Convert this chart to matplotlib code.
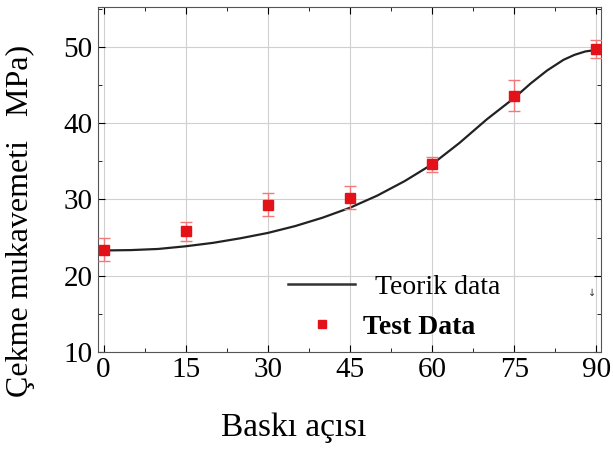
import matplotlib
matplotlib.use("Agg")
import matplotlib.pyplot as plt
from matplotlib.ticker import MultipleLocator
from matplotlib.lines import Line2D

plt.rcParams['font.family'] = ['Liberation Serif', 'DejaVu Serif']

# test verileri
aci = [0, 15, 30, 45, 60, 75, 90]
test = [23.4, 25.8, 29.3, 30.2, 34.6, 43.6, 49.7]
hata = [1.5, 1.2, 1.5, 1.5, 1.0, 2.0, 1.2]

# teorik egri
aci_t = [0, 5, 10, 15, 20, 25, 30, 35, 40, 45, 50, 55, 60, 65, 70, 75,
         78, 81, 84, 86, 88, 90]
teorik = [23.3, 23.35, 23.5, 23.85, 24.3, 24.9, 25.6, 26.5, 27.6, 28.9, 30.5, 32.4,
          34.6, 37.4, 40.5, 43.3, 45.2, 46.9, 48.3, 48.95, 49.4, 49.6]

fig = plt.figure(figsize=(6.13, 4.5), dpi=100)
ax = fig.add_axes([0.160, 0.218, 0.820, 0.766])

ax.plot(aci_t, teorik, color='#222222', lw=1.6, zorder=3)
ax.errorbar(aci, test, yerr=hata, fmt='s', color='#e31219', ms=7,
            ecolor='#f07a7a', elinewidth=1.0, capsize=4, capthick=1.0, zorder=4)

ax.set_xlim(-1.0, 90.8)
ax.set_ylim(10, 55.2)
ax.set_xticks(aci)
ax.set_yticks([10, 20, 30, 40, 50])
ax.xaxis.set_minor_locator(MultipleLocator(7.5))
ax.yaxis.set_minor_locator(MultipleLocator(5))
ax.tick_params(which='both', direction='in', top=True, right=True, labelsize=21)
ax.tick_params(which='major', length=5, pad=4)
ax.tick_params(which='minor', length=3)
ax.grid(True, which='major', color='#d0d0d0', lw=0.8)
for s in ax.spines.values():
    s.set_color('#555555')

ax.set_xlabel('Baskı açısı', fontsize=24)
ax.xaxis.set_label_coords(0.39, -0.175)
ax.set_ylabel('Çekme mukavemeti   MPa)', fontsize=23)
ax.yaxis.set_label_coords(-0.125, 0.38)

h1 = Line2D([], [], color='#333333', lw=1.8)
h2 = Line2D([], [], color='#e31219', marker='s', ms=6, ls='none')
leg1 = ax.legend([h1], ['Teorik data'], loc='center left',
                 bbox_to_anchor=(288 / 613, 1 - 287 / 450), bbox_transform=fig.transFigure,
                 frameon=False, fontsize=20, handlelength=2.4, handletextpad=0.72,
                 borderpad=0, borderaxespad=0)
ax.add_artist(leg1)
leg2 = ax.legend([h2], ['Test Data'], loc='center left',
                 bbox_to_anchor=(301 / 613, 1 - 327 / 450), bbox_transform=fig.transFigure,
                 frameon=False, fontsize=20, handlelength=1.5, handletextpad=0.72,
                 borderpad=0, borderaxespad=0)
leg2.get_texts()[0].set_fontweight('bold')

ax.text(0.982, 0.171, '↓', transform=ax.transAxes, fontsize=7, ha='center',
        va='center', family=['DejaVu Sans'], color='#333333')

fig.savefig('out.png', dpi=100)
